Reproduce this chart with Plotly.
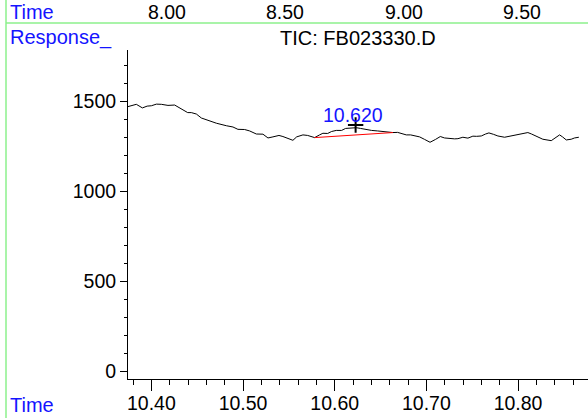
import plotly.graph_objects as go

# ---- data ----
time_min = [10.3736, 10.3782, 10.3836, 10.3902, 10.3954, 10.4000, 10.4055, 10.4109, 10.4181, 10.4254,
            10.4327, 10.4396, 10.4436, 10.4491, 10.4545, 10.4636, 10.4709, 10.4818, 10.4890, 10.4944,
            10.5017, 10.5072, 10.5145, 10.5217, 10.5272, 10.5326, 10.5392, 10.5435, 10.5486, 10.5544,
            10.5585, 10.5653, 10.5705, 10.5781, 10.5835, 10.5871, 10.5923, 10.5966, 10.6017, 10.6075,
            10.6119, 10.6162, 10.6236, 10.6282, 10.6345, 10.6402, 10.6468, 10.6526, 10.6588, 10.6635,
            10.6686, 10.6740, 10.6781, 10.6828, 10.6890, 10.6926, 10.6980, 10.7040, 10.7100, 10.7152,
            10.7198, 10.7253, 10.7308, 10.7344, 10.7398, 10.7453, 10.7507, 10.7547, 10.7599, 10.7646,
            10.7682, 10.7733, 10.7780, 10.7853, 10.7897, 10.7943, 10.8016, 10.8060, 10.8107, 10.8147,
            10.8198, 10.8270, 10.8362, 10.8409, 10.8453, 10.8485, 10.8526, 10.8580, 10.8616, 10.8663]
response = [1471, 1477, 1485, 1465, 1475, 1477, 1486, 1485, 1479, 1481,
            1457, 1439, 1439, 1431, 1409, 1392, 1380, 1366, 1359, 1346,
            1345, 1337, 1320, 1319, 1298, 1304, 1312, 1306, 1298, 1285,
            1304, 1315, 1312, 1300, 1315, 1324, 1323, 1334, 1340, 1340,
            1351, 1352, 1355, 1351, 1344, 1340, 1337, 1333, 1328, 1328,
            1329, 1320, 1315, 1315, 1306, 1304, 1290, 1274, 1290, 1306,
            1298, 1294, 1293, 1294, 1302, 1297, 1308, 1307, 1309, 1320,
            1326, 1318, 1309, 1302, 1307, 1313, 1320, 1326, 1328, 1320,
            1309, 1291, 1283, 1301, 1315, 1304, 1287, 1291, 1298, 1302]

baseline_time = [10.5781, 10.6635]
baseline_resp = [1300, 1328]

peak_time = 10.620
peak_mark_time = [10.6228]
peak_mark_resp = [1370]

title_text = "TIC: FB023330.D"
top_time_labels = ["8.00", "8.50", "9.00", "9.50"]
x_ticks = [10.40, 10.50, 10.60, 10.70, 10.80]
y_ticks = [0, 500, 1000, 1500]

# ---- layout geometry (pixels) ----
W, H = 588, 418
L, R, T, B = 128, 0, 50, 39
PW, PH = W - L - R, H - T - B

def px(x):
    return (x - L) / PW

def py(y):
    return (H - B - y) / PH

FONT = "Liberation Sans, Arial, sans-serif"
BLUE = "#1414ff"
GREEN = "#8cf08c"
FS = 19.5

fig = go.Figure()
fig.add_trace(go.Scatter(x=time_min, y=response, mode="lines",
                         line=dict(color="black", width=1), hoverinfo="skip"))
fig.add_trace(go.Scatter(x=baseline_time, y=baseline_resp, mode="lines",
                         line=dict(color="red", width=1), hoverinfo="skip"))
fig.add_trace(go.Scatter(x=peak_mark_time, y=peak_mark_resp, mode="markers",
                         marker=dict(symbol="cross-thin", size=11,
                                     line=dict(color="black", width=2)),
                         hoverinfo="skip"))

annotations = [
    dict(x=peak_time, y=peak_mark_resp[0], xref="x", yref="y", text=f"{peak_time:.3f}",
         showarrow=False, yshift=10, yanchor="middle", xanchor="center",
         font=dict(family=FONT, size=FS, color=BLUE)),
    dict(x=px((L + W) / 2), y=py(38), xref="paper", yref="paper", text=title_text,
         showarrow=False, xanchor="center", yanchor="middle",
         font=dict(family=FONT, size=20, color="black")),
    dict(x=px(8), y=py(12), xref="paper", yref="paper", text="Time",
         showarrow=False, xanchor="left", yanchor="middle",
         font=dict(family=FONT, size=20, color=BLUE)),
    dict(x=px(8), y=py(37), xref="paper", yref="paper", text="Response_",
         showarrow=False, xanchor="left", yanchor="middle",
         font=dict(family=FONT, size=20, color=BLUE)),
    dict(x=px(8), y=py(405), xref="paper", yref="paper", text="Time",
         showarrow=False, xanchor="left", yanchor="middle",
         font=dict(family=FONT, size=20, color=BLUE)),
]
for lab, cx in zip(top_time_labels, [167, 285, 404, 522]):
    annotations.append(dict(x=px(cx), y=py(12), xref="paper", yref="paper", text=lab,
                            showarrow=False, xanchor="center", yanchor="middle",
                            font=dict(family=FONT, size=FS, color="black")))

shapes = [
    dict(type="line", xref="paper", yref="paper", x0=px(6), x1=px(6), y0=py(0), y1=py(H),
         line=dict(color=GREEN, width=1.5)),
    dict(type="line", xref="paper", yref="paper", x0=px(6), x1=px(W), y0=py(23), y1=py(23),
         line=dict(color=GREEN, width=1.5)),
]

fig.update_layout(
    width=W, height=H,
    margin=dict(l=L, r=R, t=T, b=B, pad=0),
    paper_bgcolor="white", plot_bgcolor="white",
    showlegend=False,
    annotations=annotations,
    shapes=shapes,
    font=dict(family=FONT, size=FS, color="black"),
)
fig.update_xaxes(
    range=[10.3745, 10.8763], showgrid=False, zeroline=False,
    showline=True, linecolor="black", linewidth=1,
    tickmode="array", tickvals=x_ticks, ticktext=[f"{v:.2f}" for v in x_ticks],
    ticks="outside", ticklen=11, tickwidth=1, tickcolor="black",
    ticklabelstandoff=-4,
    tickfont=dict(family=FONT, size=FS, color="black"),
    minor=dict(ticks="outside", ticklen=5, tickwidth=1, tickcolor="black",
               tick0=10.38, dtick=0.02, showgrid=False),
)
fig.update_yaxes(
    range=[-42, 1787], showgrid=False, zeroline=False,
    showline=True, linecolor="black", linewidth=1,
    tickmode="array", tickvals=y_ticks,
    ticks="outside", ticklen=7, tickwidth=1, tickcolor="black",
    tickfont=dict(family=FONT, size=FS, color="black"),
    minor=dict(ticks="outside", ticklen=3, tickwidth=1, tickcolor="black",
               tick0=0, dtick=100, showgrid=False),
)

fig.write_html("out.html", config={"displayModeBar": False},
               post_script="document.body.style.margin='0px';document.body.style.overflow='hidden';")
